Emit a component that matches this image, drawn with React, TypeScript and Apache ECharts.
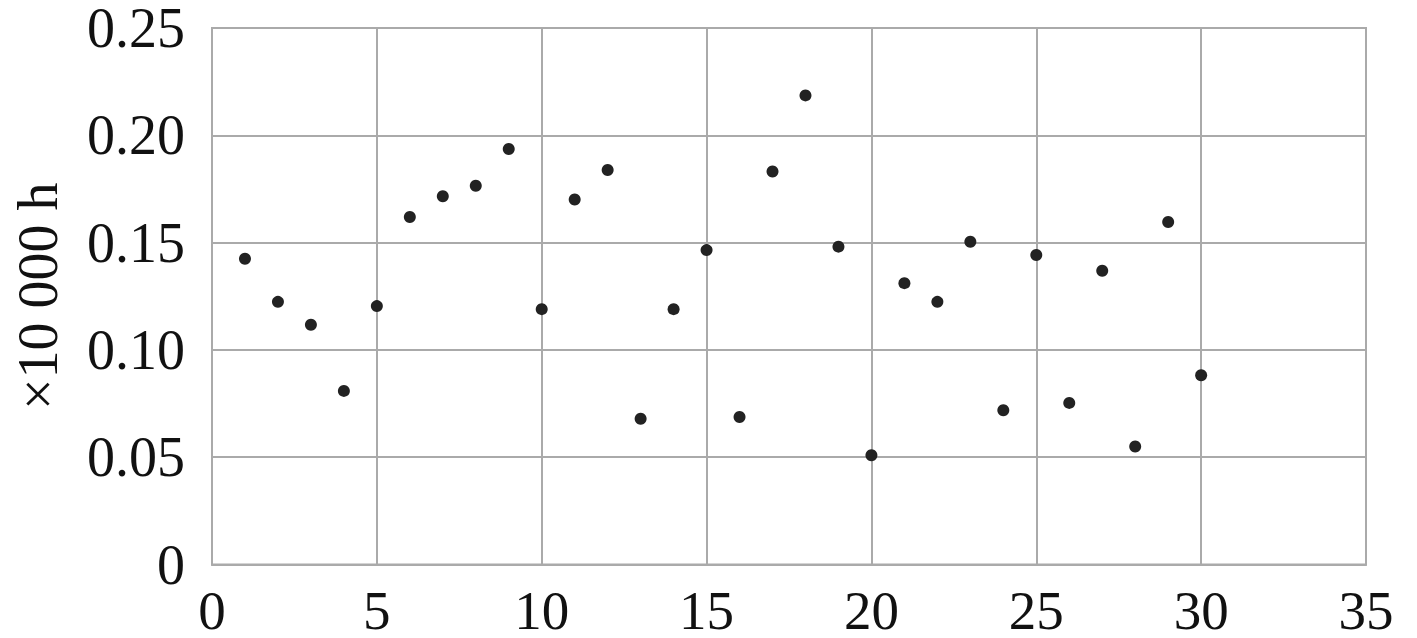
import React, { useEffect, useRef } from "react";
import * as echarts from "echarts";

const xValues = [1,2,3,4,5,6,7,8,9,10,11,12,13,14,15,16,17,18,19,20,21,22,23,24,25,26,27,28,29,30];
const yValues = [0.1425,0.1224,0.1117,0.0809,0.1204,0.1619,0.1716,0.1765,0.1936,0.1190,0.1701,0.1838,0.0679,0.1190,0.1465,0.0687,0.1831,0.2186,0.1481,0.0509,0.1311,0.1224,0.1504,0.0719,0.1442,0.0753,0.1369,0.0550,0.1596,0.0882];
const yAxisName = "×10 000 h";
const yTickLabels: Record<string, string> = { "0": "0", "0.05": "0.05", "0.1": "0.10", "0.15": "0.15", "0.2": "0.20", "0.25": "0.25" };

export default function App() {
  const ref = useRef<HTMLDivElement>(null);
  useEffect(() => {
    if (!ref.current) return;
    const chart = echarts.init(ref.current, null, { renderer: "svg" });
    const font = "'Liberation Serif', 'Times New Roman', serif";
    const gridColor = "#aaaaaa";
    chart.setOption({
      animation: false,
      backgroundColor: "#ffffff",
      grid: { left: 212, right: 51, top: 22, bottom: 71, containLabel: false, show: true, borderColor: gridColor, borderWidth: 2 },
      xAxis: {
        type: "value",
        min: 0,
        max: 35,
        interval: 5,
        axisLine: { show: true, lineStyle: { color: gridColor, width: 2 } },
        axisTick: { show: false },
        splitLine: { show: true, lineStyle: { color: gridColor, width: 2 } },
        axisLabel: { color: "#111", fontFamily: font, fontSize: 55, lineHeight: 40, margin: 26 },
      },
      yAxis: {
        type: "value",
        min: 0,
        max: 0.25,
        interval: 0.05,
        name: yAxisName,
        nameLocation: "middle",
        nameGap: 146,
        nameRotate: 90,
        nameTextStyle: { color: "#111", fontFamily: font, fontSize: 56 },
        axisLine: { show: true, lineStyle: { color: gridColor, width: 2 } },
        axisTick: { show: false },
        splitLine: { show: true, lineStyle: { color: gridColor, width: 2 } },
        axisLabel: {
          color: "#111",
          fontFamily: font,
          fontSize: 56,
          lineHeight: 40,
          margin: 27,
          formatter: (v: number) => yTickLabels[String(+v.toFixed(2))] ?? String(v),
        },
      },
      series: [
        {
          type: "scatter",
          data: xValues.map((x, i) => [x, yValues[i]]),
          symbol: "circle",
          symbolSize: 12,
          itemStyle: { color: "#222222", opacity: 1 },
        },
      ],
    });
    return () => chart.dispose();
  }, []);
  return <div ref={ref} style={{ position: "fixed", left: 0, top: 0, width: 1417, height: 638 }} />;
}
